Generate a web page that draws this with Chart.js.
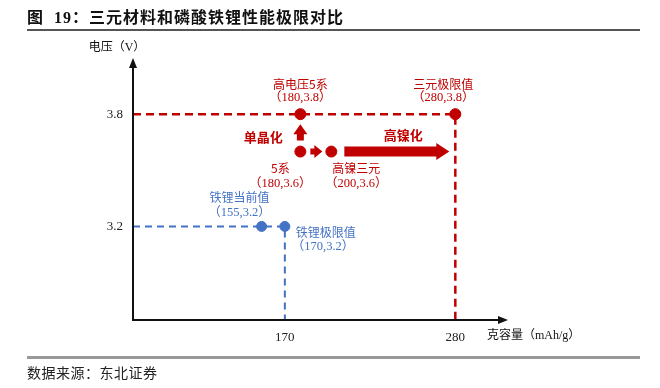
<!DOCTYPE html>
<html>
<head>
<meta charset="utf-8">
<script src="https://cdn.jsdelivr.net/npm/chart.js@4"></script>
<style>
  html, body { margin: 0; padding: 0; background: #fff; }
  #wrap { position: relative; width: 660px; height: 388px; overflow: hidden; }
  #title { position: absolute; left: 27px; top: 4px; font: bold 16px 'Liberation Serif', 'Noto Sans CJK SC'; letter-spacing: 1px; color: #111; white-space: nowrap; }
  #rule1 { position: absolute; left: 27px; top: 29px; width: 613px; height: 2px; background: #555; }
  #rule2 { position: absolute; left: 27px; top: 356px; width: 613px; height: 3px; background: #999; }
  #source { position: absolute; left: 27px; top: 362px; font: 14px 'Noto Sans CJK SC'; letter-spacing: 0.5px; color: #222; white-space: nowrap; }
  canvas { position: absolute; left: 0; top: 0; }
</style>
</head>
<body>
<div id="wrap">
  <canvas id="grafico" width="660" height="388"></canvas>
  <div id="title">图&nbsp; 19：三元材料和磷酸铁锂性能极限对比</div>
  <div id="rule1"></div>
  <div id="rule2"></div>
  <div id="source">数据来源：东北证券</div>
</div>
<script>
// 三元材料 (红)
const nomesTernario = ['高电压5系', '5系', '高镍三元', '三元极限值'];
const capTernario = [180, 180, 200, 280];
const voltTernario = [3.8, 3.6, 3.6, 3.8];

// 磷酸铁锂 (蓝)
const nomesLfp = ['铁锂当前值', '铁锂极限值'];
const capLfp = [155, 170];
const voltLfp = [3.2, 3.2];

const xTicks = [170, 280];
const yTicks = [3.2, 3.8];
const xMin = 72, xMax = 314;
const yMin = 2.7, yMax = 4.1;

const VERMELHO = '#c00000';
const AZUL = '#4472c4';

const pts = (xs, ys) => xs.map((v, i) => ({ x: v, y: ys[i] }));

// linhas tracejadas até os eixos, a partir dos valores-limite
const limT = capTernario.length - 1;
const limL = capLfp.length - 1;
const tracoT = [{ x: xMin, y: voltTernario[limT] }, { x: capTernario[limT], y: voltTernario[limT] }, { x: capTernario[limT], y: yMin }];
const tracoL = [{ x: xMin, y: voltLfp[limL] }, { x: capLfp[limL], y: voltLfp[limL] }, { x: capLfp[limL], y: yMin }];

function seta(ctx, x0, y0, x1, y1, haste, cabeca, compCabeca) {
  const ang = Math.atan2(y1 - y0, x1 - x0);
  const len = Math.hypot(x1 - x0, y1 - y0);
  ctx.save();
  ctx.translate(x0, y0);
  ctx.rotate(ang);
  const b = Math.max(len - compCabeca, 0);
  ctx.beginPath();
  ctx.moveTo(0, -haste / 2);
  ctx.lineTo(b, -haste / 2);
  ctx.lineTo(b, -cabeca / 2);
  ctx.lineTo(len, 0);
  ctx.lineTo(b, cabeca / 2);
  ctx.lineTo(b, haste / 2);
  ctx.lineTo(0, haste / 2);
  ctx.closePath();
  ctx.fill();
  ctx.restore();
}

// deslocamentos dos rótulos (dx, dy da 1a linha, dy da 2a linha, alinhamento)
const posT = [[0, -30, -16, 'center'], [-20, 17, 32, 'center'], [25, 17, 32, 'center'], [-12, -30, -16, 'center']];
const posL = [[-22, -29, -14, 'center'], [11, 6, 20, 'left']];

const esquema = {
  id: 'esquema',
  afterDatasetsDraw(chart) {
    const { ctx, chartArea: a, scales: { x, y } } = chart;
    ctx.save();

    // eixos com setas
    ctx.strokeStyle = '#111';
    ctx.fillStyle = '#111';
    ctx.lineWidth = 2;
    ctx.beginPath();
    ctx.moveTo(a.left, a.top + 8);
    ctx.lineTo(a.left, a.bottom);
    ctx.lineTo(a.right - 8, a.bottom);
    ctx.stroke();
    ctx.beginPath();
    ctx.moveTo(a.left, a.top); ctx.lineTo(a.left - 4, a.top + 10); ctx.lineTo(a.left + 4, a.top + 10);
    ctx.closePath(); ctx.fill();
    ctx.beginPath();
    ctx.moveTo(a.right, a.bottom); ctx.lineTo(a.right - 10, a.bottom - 4); ctx.lineTo(a.right - 10, a.bottom + 4);
    ctx.closePath(); ctx.fill();

    // títulos dos eixos
    ctx.font = "12px 'Liberation Serif', 'Noto Sans CJK SC'";
    ctx.textBaseline = 'middle';
    ctx.textAlign = 'center';
    ctx.fillText('电压（V）', a.left - 16, a.top - 10);
    ctx.textAlign = 'left';
    ctx.fillText('克容量（mAh/g）', a.right - 21, a.bottom + 16);

    // setas de evolução
    ctx.fillStyle = VERMELHO;
    const px = i => x.getPixelForValue(capTernario[i]);
    const py = i => y.getPixelForValue(voltTernario[i]);
    seta(ctx, px(1), py(1) - 11, px(0), py(0) + 10, 7, 14, 10);
    seta(ctx, px(1) + 10, py(1), px(2) - 9, py(2), 6, 13, 8);
    seta(ctx, px(2) + 13, py(2), px(3) - 6, py(2), 10, 17, 13);

    ctx.font = "bold 13px 'Noto Sans CJK SC'";
    ctx.textAlign = 'center';
    ctx.fillText('单晶化', px(1) - 37, (py(0) + py(1)) / 2 + 4);
    ctx.fillText('高镍化', (px(2) + px(3)) / 2 + 10, py(2) - 17);

    // rótulos dos pontos
    const rotulos = (nomes, xs, ys, pos, cor) => {
      ctx.fillStyle = cor;
      nomes.forEach((n, i) => {
        const cx = x.getPixelForValue(xs[i]), cy = y.getPixelForValue(ys[i]);
        const [dx, d1, d2, al] = pos[i];
        ctx.textAlign = al;
        ctx.font = "12px 'Noto Sans CJK SC'";
        ctx.fillText(n, cx + dx, cy + d1);
        ctx.font = "12.5px 'Liberation Serif', 'Noto Sans CJK SC'";
        ctx.fillText('（' + xs[i] + ',' + ys[i] + '）', cx + dx + (al === 'left' ? -4 : 0), cy + d2);
      });
    };
    rotulos(nomesTernario, capTernario, voltTernario, posT, VERMELHO);
    rotulos(nomesLfp, capLfp, voltLfp, posL, AZUL);

    ctx.restore();
  }
};

new Chart(document.getElementById('grafico'), {
  type: 'scatter',
  data: {
    datasets: [
      { data: tracoT, showLine: true, borderColor: VERMELHO, borderWidth: 2.5, borderDash: [8, 5], pointRadius: 0, order: 3 },
      { data: tracoL, showLine: true, borderColor: AZUL, borderWidth: 2, borderDash: [7, 5], pointRadius: 0, order: 3 },
      { data: pts(capTernario, voltTernario), backgroundColor: VERMELHO, borderColor: VERMELHO, pointRadius: 5.5, order: 1 },
      { data: pts(capLfp, voltLfp), backgroundColor: AZUL, borderColor: AZUL, pointRadius: 5, order: 1 }
    ]
  },
  options: {
    responsive: false,
    animation: false,
    layout: { padding: { top: 58, right: 152, left: 0, bottom: 0 } },
    scales: {
      x: {
        type: 'linear', min: xMin, max: xMax,
        grid: { display: false }, border: { display: false },
        afterBuildTicks: s => { s.ticks = xTicks.map(v => ({ value: v })); },
        afterFit: s => { s.height = 68; },
        ticks: { color: '#222', padding: 2, font: { family: 'Liberation Serif', size: 13 } }
      },
      y: {
        min: yMin, max: yMax,
        grid: { display: false }, border: { display: false },
        afterBuildTicks: s => { s.ticks = yTicks.map(v => ({ value: v })); },
        afterFit: s => { s.width = 133; },
        ticks: { color: '#222', padding: 2, font: { family: 'Liberation Serif', size: 13 } }
      }
    },
    plugins: { legend: { display: false }, tooltip: { enabled: false } }
  },
  plugins: [esquema]
});
</script>
</body>
</html>
